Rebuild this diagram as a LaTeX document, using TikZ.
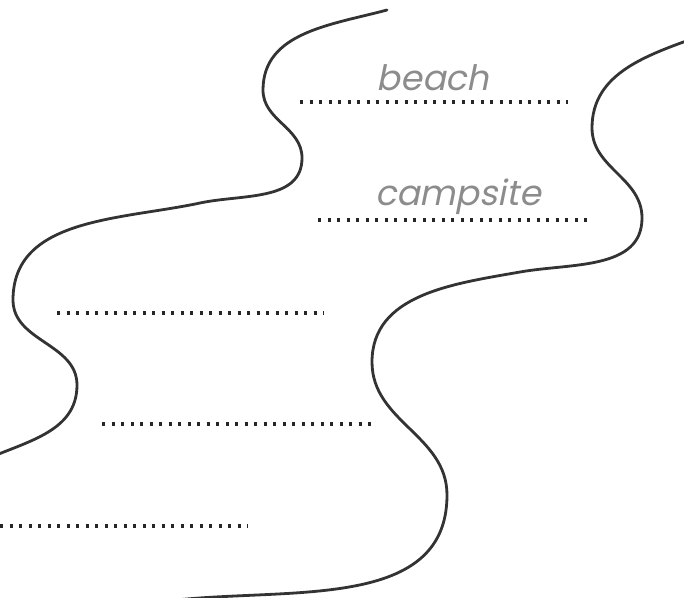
\documentclass[tikz,border=0pt]{standalone}
\usepackage{fontspec}
\newfontfamily\handfont{Poppins}[FakeSlant=0.2]
\usetikzlibrary{positioning}

\begin{document}
\begin{tikzpicture}[x=1pt, y=-1pt,
  bank/.style={draw=black!80, line width=2.8pt, line cap=round},
  dotrow/.style={draw=black!85, line width=3.2pt,
    dash pattern=on 3.2pt off 6.3pt},
  word/.style={text=black!45, inner sep=0pt, anchor=base,
    font=\handfont\fontsize{35}{40}\selectfont}]
\useasboundingbox (0,0) rectangle (684,597);
\clip (0,0) rectangle (684,597);
% left bank
\draw[bank] (387,10) to[out=195, in=90] (263,90)
  to[out=-90, in=90] (302,158)
  to[out=-90, in=12] (200,203)
  to[out=192, in=90] (13,300)
  to[out=-90, in=90] (77,385)
  to[out=-90, in=25] (-20,462);
% right bank
\draw[bank] (700,36) to[out=200, in=90] (592,128)
  to[out=-90, in=90] (642,218)
  to[out=-90, in=10] (520,272)
  to[out=190, in=90] (372,362)
  to[out=-90, in=90] (447,495)
  to[out=-90, in=8] (160,602);
% writing lines
\node[word] (beach) at (433,90) {beach};
\node[word] (campsite) at (458,205) {campsite};
\draw[dotrow] (300,102) -- (568,102);
\draw[dotrow] (318,220) -- (588,220);
\draw[dotrow] (57,313) -- (324,313);
\draw[dotrow] (102,424) -- (371,424);
\draw[dotrow] (0,526) -- (248,526);
\end{tikzpicture}
\end{document}
